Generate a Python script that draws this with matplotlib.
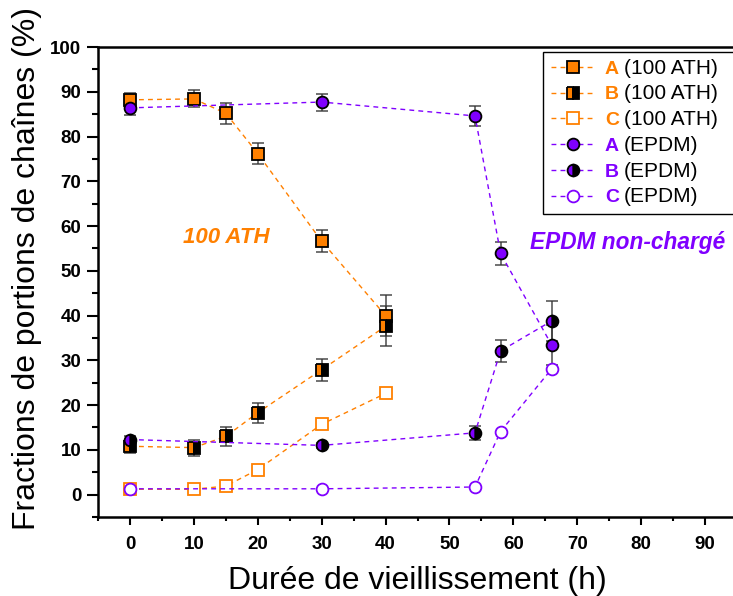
import matplotlib
matplotlib.use("Agg")
import matplotlib.pyplot as plt
from matplotlib.ticker import MultipleLocator

plt.rcParams['font.family'] = ['Liberation Sans', 'DejaVu Sans']

# ---- data ----
x_ath = [0, 10, 15, 20, 30, 40]
ath_A = [88.2, 88.4, 85.2, 76.2, 56.6, 40.0]
ath_A_err = [1.5, 1.9, 2.4, 2.3, 2.5, 4.5]
ath_B = [10.8, 10.5, 13.0, 18.3, 27.9, 37.6]
ath_B_err = [1.5, 1.8, 2.2, 2.2, 2.5, 4.5]
ath_C = [1.2, 1.2, 1.9, 5.6, 15.7, 22.6]

x_epdm = [0, 30, 54, 58, 66]
epdm_A = [86.4, 87.7, 84.6, 53.9, 33.4]
epdm_A_err = [1.5, 1.9, 2.3, 2.5, 4.5]
epdm_B = [12.3, 11.0, 13.8, 32.1, 38.8]
epdm_B_err = [0.8, 0.6, 1.6, 2.5, 4.5]
epdm_C = [1.3, 1.3, 1.7, 14.1, 28.1]

legend_letters = ['A', 'B', 'C', 'A', 'B', 'C']
legend_suffix = ['(100 ATH)'] * 3 + ['(EPDM)'] * 3

ORANGE = '#FF8000'
PURPLE = '#8000FF'

fig = plt.figure(figsize=(7.33, 5.96), dpi=100)
ax = fig.add_axes([98/733, (596-517)/596, (737-98)/733, (517-47)/596])

ls = (0, (3.5, 3))
ekw = dict(ecolor='#333333', elinewidth=1.3, capsize=4, capthick=1.3, alpha=0.75)
ms = 8.5

def series(x, y, err, color, marker, fill, label, alt='black'):
    line_kw = dict(color=color, lw=1.0, linestyle=ls, marker=marker, markersize=ms,
                   markeredgecolor='black', markeredgewidth=1.3, label=label, zorder=3)
    if fill == 'full':
        line_kw.update(markerfacecolor=color, fillstyle='full')
    elif fill == 'left':
        line_kw.update(markerfacecolor=color, fillstyle='left', markerfacecoloralt=alt)
    else:
        line_kw.update(markerfacecolor='white', markeredgecolor=color, fillstyle='full')
    if err is not None:
        ax.errorbar(x, y, yerr=err, fmt='none', zorder=2, **ekw)
    ln, = ax.plot(x, y, **line_kw)
    return ln

h1 = series(x_ath, ath_A, ath_A_err, ORANGE, 's', 'full', 'A')
h2 = series(x_ath, ath_B, ath_B_err, ORANGE, 's', 'left', 'B')
h3 = series(x_ath, ath_C, None, ORANGE, 's', 'none', 'C')
h4 = series(x_epdm, epdm_A, epdm_A_err, PURPLE, 'o', 'full', 'A')
h5 = series(x_epdm, epdm_B, epdm_B_err, PURPLE, 'o', 'left', 'B')
h6 = series(x_epdm, epdm_C, None, PURPLE, 'o', 'none', 'C')

ax.set_xlim(-5, 95)
ax.set_ylim(-5, 100)
ax.xaxis.set_major_locator(MultipleLocator(10))
ax.xaxis.set_minor_locator(MultipleLocator(5))
ax.yaxis.set_major_locator(MultipleLocator(10))
ax.yaxis.set_minor_locator(MultipleLocator(5))
ax.tick_params(axis='both', which='both', direction='out', width=1.5, labelsize=13.5)
ax.tick_params(axis='x', which='major', length=6, pad=8)
ax.tick_params(axis='x', which='minor', length=3)
ax.tick_params(axis='y', which='major', length=8, pad=4)
ax.tick_params(axis='y', which='minor', length=4)
for lab in ax.get_xticklabels() + ax.get_yticklabels():
    lab.set_fontweight('bold')
for sp in ['left', 'bottom', 'top']:
    ax.spines[sp].set_linewidth(1.8)
ax.spines['right'].set_visible(False)

ax.set_xlabel('Durée de vieillissement (h)', fontsize=23, labelpad=9)
fig.text(27/733, 1 - 268/596, 'Fractions de portions de chaînes (%)', rotation=90,
         fontsize=23, ha='center', va='center')

ax.text(8.3, 57.4, '100 ATH', color=ORANGE, fontsize=16, fontweight='bold',
        fontstyle='italic', ha='left', va='center', zorder=6)
ax.text(62.6, 56.4, 'EPDM non-chargé', color=PURPLE, fontsize=16.3, fontweight='bold',
        fontstyle='italic', ha='left', va='center', zorder=6)

handles = [h1, h2, h3, h4, h5, h6]
colors = [ORANGE] * 3 + [PURPLE] * 3
leg = ax.legend(handles, legend_letters, loc='upper left', mode='expand',
                bbox_to_anchor=(0.696, 0.649, 0.40, 0.340), fontsize=14,
                frameon=True, fancybox=False, edgecolor='black', framealpha=1,
                handlelength=2.3, handletextpad=0.5, labelspacing=0.42,
                borderpad=0.4, borderaxespad=0)
leg.get_frame().set_linewidth(1.0)
for t, c in zip(leg.get_texts(), colors):
    t.set_color(c)
    t.set_fontweight('bold')

fig.canvas.draw()
for t, s in zip(leg.get_texts(), legend_suffix):
    bb = t.get_window_extent()
    fig.text(bb.x1 + 5, bb.y0, s, transform=None, fontsize=15,
             ha='left', va='bottom', color='black', zorder=10)

fig.savefig('out.png', dpi=100)
